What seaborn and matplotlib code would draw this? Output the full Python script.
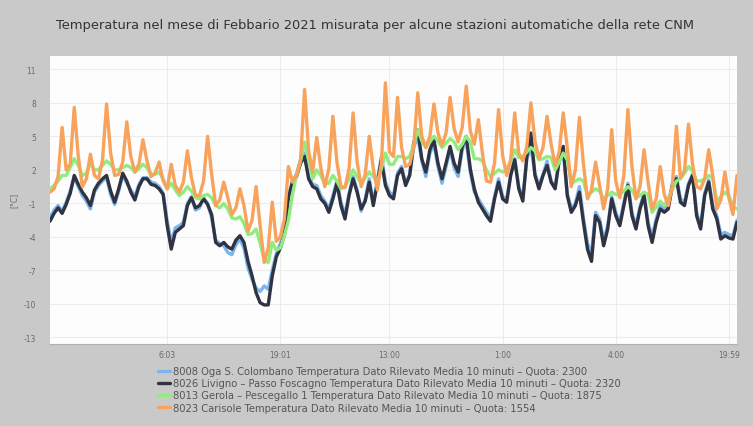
import numpy as np
import pandas as pd
import matplotlib
matplotlib.use("Agg")
import matplotlib.pyplot as plt
from matplotlib.lines import Line2D
import seaborn as sns

# stazioni (ordine della legenda)
stazioni = [
    "8008 Oga S. Colombano Temperatura Dato Rilevato Media 10 minuti \u2013 Quota: 2300",
    "8026 Livigno \u2013 Passo Foscagno Temperatura Dato Rilevato Media 10 minuti \u2013 Quota: 2320",
    "8013 Gerola \u2013 Pescegallo 1 Temperatura Dato Rilevato Media 10 minuti \u2013 Quota: 1875",
    "8023 Carisole Temperatura Dato Rilevato Media 10 minuti \u2013 Quota: 1554",
]
colori = ["#7cb5ec", "#2f3342", "#90ed7d", "#f7a35c"]

# temperature (campioni equidistanti)
oga = [-2.3, -1.6, -1.2, -1.7, -0.9, 0.1, 1.3, 0.5, -0.3, -0.8, -1.5, 0.0, 0.6, 1.0, 1.3, -0.2,
       -1.1, 0.1, 1.5, 0.8, 0.2, -0.4, 0.7, 1.3, 1.3, 0.9, 0.8, 0.5, -0.1, -2.6, -4.5, -3.2,
       -3.0, -2.7, -1.0, -0.4, -1.6, -1.4, -0.5, -1.0, -2.3, -4.3, -4.6, -4.8, -5.4, -5.6, -4.7, -4.2,
       -5.0, -6.8, -7.8, -8.6, -8.9, -8.4, -8.7, -7.0, -5.5, -4.6, -3.5, -0.3, 1.0, 1.6, 2.9, 3.5,
       1.4, 0.7, 0.6, -0.3, -0.8, -1.5, -0.3, 1.0, -0.9, -2.0, -0.1, 1.4, 0.2, -1.7, -0.6, 1.2,
       -0.9, 1.0, 3.2, 0.9, 0.0, -0.3, 1.7, 2.3, 0.8, 1.6, 4.0, 5.0, 2.8, 1.4, 3.5, 4.3,
       2.3, 0.8, 2.3, 3.8, 2.2, 1.4, 3.8, 4.6, 1.8, 0.0, -0.6, -1.2, -1.8, -2.3, -0.4, 1.2,
       -0.4, -0.6, 1.6, 3.0, 0.5, -0.5, 3.0, 4.0, 1.7, 0.6, 1.6, 2.8, 1.0, 0.5, 2.8, 3.6,
       -0.1, -1.5, -1.0, 0.5, -2.3, -4.6, -5.5, -1.8, -2.4, -4.3, -3.0, -0.4, -1.8, -2.7, -0.9, 0.8,
       -1.8, -3.0, -1.3, -0.1, -2.7, -4.0, -2.4, -1.2, -1.5, -1.2, 0.8, 1.4, -0.6, -0.9, 0.8, 1.6,
       -1.8, -3.0, -0.1, 1.1, -1.2, -2.1, -3.8, -3.6, -3.8, -3.9, -2.5]

livigno = [-2.6, -1.9, -1.4, -1.9, -1.1, -0.1, 1.5, 0.7, 0.0, -0.5, -1.2, 0.2, 0.8, 1.2, 1.5, 0.1,
           -0.9, 0.3, 1.7, 1.0, 0.0, -0.7, 0.5, 1.2, 1.2, 0.7, 0.6, 0.3, -0.2, -3.0, -5.1, -3.6,
           -3.3, -3.0, -1.2, -0.5, -1.4, -1.2, -0.6, -1.1, -2.0, -4.5, -4.8, -4.5, -4.9, -5.1, -4.3, -3.9,
           -4.5, -6.2, -7.5, -9.0, -9.9, -10.1, -10.1, -7.5, -5.8, -5.0, -3.8, -0.5, 0.9, 1.4, 2.6, 3.2,
           1.2, 0.5, 0.3, -0.6, -1.0, -1.8, -0.6, 0.8, -1.2, -2.4, -0.3, 1.2, 0.0, -1.5, -0.8, 0.9,
           -1.2, 0.8, 2.9, 0.6, -0.3, -0.6, 1.5, 2.1, 0.6, 1.5, 4.4, 5.6, 3.0, 1.8, 3.8, 4.7,
           2.6, 1.2, 2.6, 4.1, 2.6, 1.8, 4.1, 5.0, 2.1, 0.3, -0.9, -1.5, -2.1, -2.6, -0.6, 0.9,
           -0.6, -0.9, 1.5, 2.9, 0.3, -0.8, 3.2, 5.3, 1.5, 0.3, 1.5, 2.4, 0.9, 0.3, 2.9, 4.1,
           -0.3, -1.8, -1.2, 0.0, -2.7, -5.1, -6.2, -2.1, -2.7, -4.8, -3.3, -0.6, -2.1, -3.0, -1.2, 0.6,
           -2.1, -3.3, -1.5, -0.3, -3.0, -4.5, -2.7, -1.5, -1.8, -1.5, 0.6, 1.2, -0.9, -1.2, 0.6, 1.5,
           -2.1, -3.3, -0.3, 0.9, -1.5, -2.4, -4.2, -3.9, -4.1, -4.2, -2.7]

gerola = [0.3, 0.6, 1.0, 1.5, 1.5, 2.2, 3.0, 2.4, 1.5, 1.7, 2.6, 2.0, 2.0, 2.4, 2.8, 2.5,
          2.0, 2.0, 2.2, 2.4, 2.2, 1.8, 2.1, 2.5, 2.2, 1.6, 1.6, 1.8, 1.2, 0.3, 0.8, 0.2,
          -0.3, 0.0, 0.5, 0.1, -0.5, -0.6, -0.3, -0.2, -0.5, -1.2, -1.4, -1.0, -1.5, -2.3, -2.4, -2.2,
          -2.8, -3.8, -3.7, -3.3, -4.6, -6.0, -6.3, -4.5, -5.2, -5.0, -3.9, -2.5, -0.2, 1.5, 2.8, 4.5,
          2.9, 1.2, 2.0, 1.5, 0.8, 0.8, 1.5, 1.0, 0.3, 0.5, 1.2, 2.0, 1.4, 0.8, 1.3, 1.8,
          1.4, 0.9, 2.1, 3.5, 2.5, 2.5, 3.2, 3.2, 3.0, 3.2, 4.2, 5.6, 4.6, 4.0, 4.5, 5.0,
          4.6, 4.0, 4.4, 4.8, 4.5, 3.8, 4.3, 5.0, 4.5, 3.0, 3.0, 2.8, 2.0, 1.4, 1.7, 2.0,
          1.8, 2.0, 2.8, 3.8, 3.1, 3.2, 3.6, 4.0, 3.7, 2.9, 3.0, 3.2, 3.1, 2.0, 2.7, 3.5,
          2.9, 0.8, 1.0, 1.2, 1.0, -0.3, 0.0, 0.3, 0.1, -0.6, -0.3, 0.0, -0.2, -0.2, 0.1, 0.5,
          0.2, -0.5, -0.3, 0.0, -0.2, -1.8, -1.3, -0.8, -1.2, -0.5, 0.2, 1.0, 1.2, 1.7, 2.3, 1.9,
          1.0, 1.0, 1.2, 1.5, 1.3, -0.8, -0.4, 0.0, -0.3, -1.3, -1.5]

carisole = [0.0, 0.3, 1.4, 5.8, 2.0, 2.5, 7.6, 3.2, 0.5, 1.2, 3.4, 1.5, 1.2, 2.9, 7.9, 3.5,
            1.5, 1.6, 2.7, 6.3, 3.2, 1.8, 2.5, 4.7, 2.8, 1.4, 1.7, 2.7, 1.0, 0.3, 2.5, 0.6,
            0.0, 0.9, 3.7, 1.3, -0.3, -0.3, 1.0, 5.0, 1.6, -1.2, -0.7, 0.9, -0.5, -2.0, -1.4, 0.3,
            -1.2, -3.5, -2.5, 0.5, -3.0, -6.3, -5.0, -0.9, -4.4, -4.0, -2.4, 2.3, 0.9, 1.5, 2.9, 9.2,
            3.7, 1.8, 4.9, 2.2, 0.5, 2.1, 6.8, 2.7, 0.5, 0.4, 2.1, 7.1, 2.7, 0.5, 1.6, 5.0,
            2.1, 0.2, 2.6, 9.8, 3.6, 3.2, 8.5, 4.0, 2.3, 2.5, 4.0, 8.9, 5.0, 4.0, 5.0, 7.9,
            5.3, 4.2, 5.3, 8.5, 5.7, 4.5, 5.8, 9.5, 5.5, 4.3, 6.5, 3.5, 1.0, 0.9, 2.6, 7.4,
            3.3, 1.5, 2.9, 7.1, 3.5, 2.8, 4.1, 8.0, 4.6, 3.0, 4.0, 6.8, 4.3, 2.4, 3.6, 7.1,
            4.0, 0.5, 2.0, 6.7, 2.5, -0.6, 0.2, 2.7, 0.6, -1.5, 0.3, 5.6, 1.0, -0.5, 1.5, 7.4,
            2.3, -0.6, 0.5, 3.8, 0.9, -1.5, -0.6, 2.3, -0.2, -1.2, 0.6, 5.9, 1.3, 1.9, 6.1, 2.5,
            0.5, 0.3, 1.2, 3.8, 1.5, -1.5, -0.7, 1.8, -0.5, -2.0, 1.5]

serie = [oga, livigno, gerola, carisole]

# etichette asse x
x_tick_labels = ["6:03", "19:01", "13:00", "1:00", "4:00", "19:59"]
x_tick_pos = [29, 57, 84, 112, 140, 168]
y_ticks = [11, 8, 5, 2, -1, -4, -7, -10, -13]

frames = []
for nome, valori in zip(stazioni, serie):
    frames.append(pd.DataFrame({"idx": np.arange(len(valori)), "temp": valori, "stazione": nome}))
df = pd.concat(frames, ignore_index=True)

sns.set_style("white")
fig = plt.figure(figsize=(7.53, 4.27), dpi=100, facecolor="#c9c9c9")
ax = fig.add_axes([50 / 753, 1 - 345 / 427, 687 / 753, 288 / 427])
ax.set_facecolor("#fdfdfd")

for v in y_ticks:
    ax.axhline(v, color="#ececec", lw=0.8, zorder=0)
for p in x_tick_pos:
    ax.axvline(p, color="#ececec", lw=0.8, zorder=0)

sns.lineplot(data=df, x="idx", y="temp", hue="stazione", hue_order=stazioni,
             palette=colori, linewidth=2.4, legend=False, ax=ax)

ax.set_xlim(0, len(oga) - 1)
ax.set_ylim(-13.6, 12.2)
ax.set_yticks(y_ticks)
ax.set_yticklabels([str(v) for v in y_ticks])
ax.set_xticks(x_tick_pos)
ax.set_xticklabels(x_tick_labels)
ax.tick_params(axis="both", length=0, labelsize=5.5, labelcolor="#6a6a6a")
ax.tick_params(axis="y", pad=10)
ax.tick_params(axis="x", pad=4)
ax.set_xlabel("")
ax.set_ylabel("")
for s in ax.spines.values():
    s.set_visible(False)
ax.spines["bottom"].set_visible(True)
ax.spines["bottom"].set_color("#b0b0b0")
ax.spines["bottom"].set_linewidth(0.8)

fig.text(14 / 753, 1 - 200 / 427, "[°C]", rotation=90, ha="center", va="center",
         fontsize=5.5, color="#6a6a6a")

fig.text(375 / 753, 1 - 25 / 427,
         "Temperatura nel mese di Febbario 2021 misurata per alcune stazioni automatiche della rete CNM",
         ha="center", va="center", fontsize=9.4, color="#333333")

handles = [Line2D([0], [0], color=c, lw=2.4) for c in colori]
fig.legend(handles, stazioni, loc="upper left", bbox_to_anchor=(158 / 753, 1 - 367 / 427),
           frameon=False, fontsize=7.2, handlelength=1.2, handletextpad=0.3,
           labelspacing=0.22, labelcolor="#555555", borderaxespad=0, borderpad=0)

fig.savefig("out.png", dpi=100, facecolor=fig.get_facecolor())
